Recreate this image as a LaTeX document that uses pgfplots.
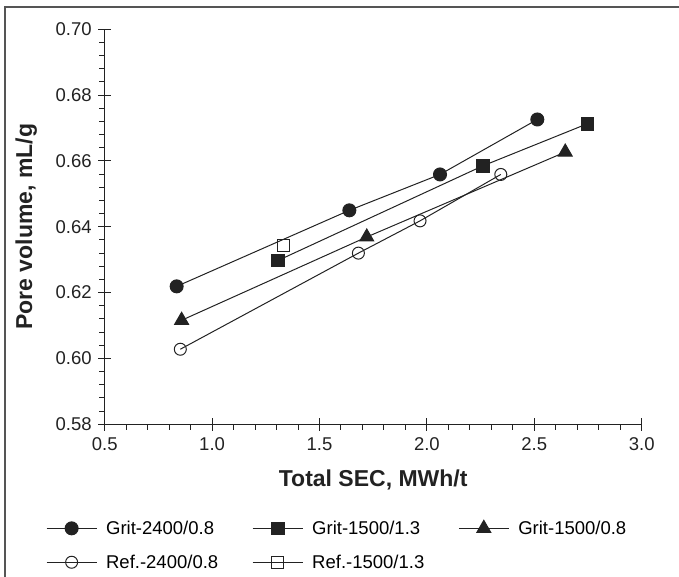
\documentclass[border=0pt]{standalone}
\usepackage{fontspec}
\setmainfont{Liberation Sans}
\usepackage{pgfplots}
\pgfplotsset{compat=1.18}
\definecolor{ink}{HTML}{222222}
\definecolor{framec}{HTML}{555555}

\begin{document}
\begin{tikzpicture}[x=1bp,y=1bp]
\useasboundingbox (0,0) rectangle (679,577);
\draw[line width=1.3bp, framec] (5,-2) -- (5,570) -- (681,570);
\begin{axis}[
  at={(104.7bp,152.7bp)}, anchor=south west,
  scale only axis, width=537bp, height=395bp,
  xmin=0.5, xmax=3.0, ymin=0.58, ymax=0.70,
  axis lines*=left,
  axis line style={line width=1bp, ink},
  xtick={0.5,1.0,1.5,2.0,2.5,3.0},
  ytick={0.58,0.60,0.62,0.64,0.66,0.68,0.70},
  minor x tick num=4, minor y tick num=4,
  tick align=center,
  major tick length=13bp, minor tick length=5.5bp,
  tick style={line width=1bp, ink},
  every minor x tick/.append style={yshift=-2.75bp},
  every minor y tick/.append style={xshift=-2.75bp},
  /pgf/number format/assume math mode=true,
  tick label style={font=\fontsize{18.5bp}{21bp}\selectfont, text=ink},
  xticklabel style={yshift=-3bp, /pgf/number format/.cd, fixed, fixed zerofill, precision=1},
  yticklabel style={xshift=-3bp, /pgf/number format/.cd, fixed, fixed zerofill, precision=2},
  xlabel={Total SEC, MWh/t},
  ylabel={Pore volume, mL/g},
  label style={font=\bfseries\fontsize{23bp}{26bp}\selectfont, text=ink},
  xlabel style={at={(axis description cs:0.5,-0.141)}, anchor=center},
  ylabel style={at={(axis description cs:-0.146,0.5)}, anchor=center, rotate=0},
  clip=false,
  legend columns=3,
  legend cell align=left,
  legend style={draw=none, fill=none,
    at={(axis description cs:-0.115,-0.234)}, anchor=north west,
    font=\fontsize{18.5bp}{21bp}\selectfont,
    row sep=15bp,
    /tikz/every odd column/.append style={column sep=7bp},
    /tikz/every even column/.append style={column sep=32bp}},
  legend image code/.code={
    \draw[mark repeat=2, mark phase=2]
      plot coordinates {(0bp,0bp) (25bp,0bp) (50bp,0bp)};},
  every axis plot/.append style={line width=1bp, ink},
]
\addplot[mark=*, mark size=6.5bp, mark options={fill=ink, draw=ink}] coordinates {
  (0.835,0.6219) (1.639,0.6450) (2.061,0.6559) (2.514,0.6726)
};
\addlegendentry{Grit-2400/0.8}
\addplot[mark=square*, mark size=6.3bp, mark options={fill=ink, draw=ink}] coordinates {
  (1.308,0.6298) (2.260,0.6585) (2.747,0.6713)
};
\addlegendentry{Grit-1500/1.3}
\addplot[mark=triangle*, mark size=8bp, mark options={fill=ink, draw=ink}] coordinates {
  (0.858,0.6116) (1.720,0.6369) (2.644,0.6627)
};
\addlegendentry{Grit-1500/0.8}
\addplot[mark=o, mark size=6bp, mark options={draw=ink}] coordinates {
  (0.852,0.6028) (1.681,0.6320) (1.968,0.6418) (2.344,0.6559)
};
\addlegendentry{Ref.-2400/0.8}
\addplot[mark=square, mark size=6bp, mark options={draw=ink}] coordinates {
  (1.331,0.6344)
};
\addlegendentry{Ref.-1500/1.3}
\end{axis}
\end{tikzpicture}
\end{document}
